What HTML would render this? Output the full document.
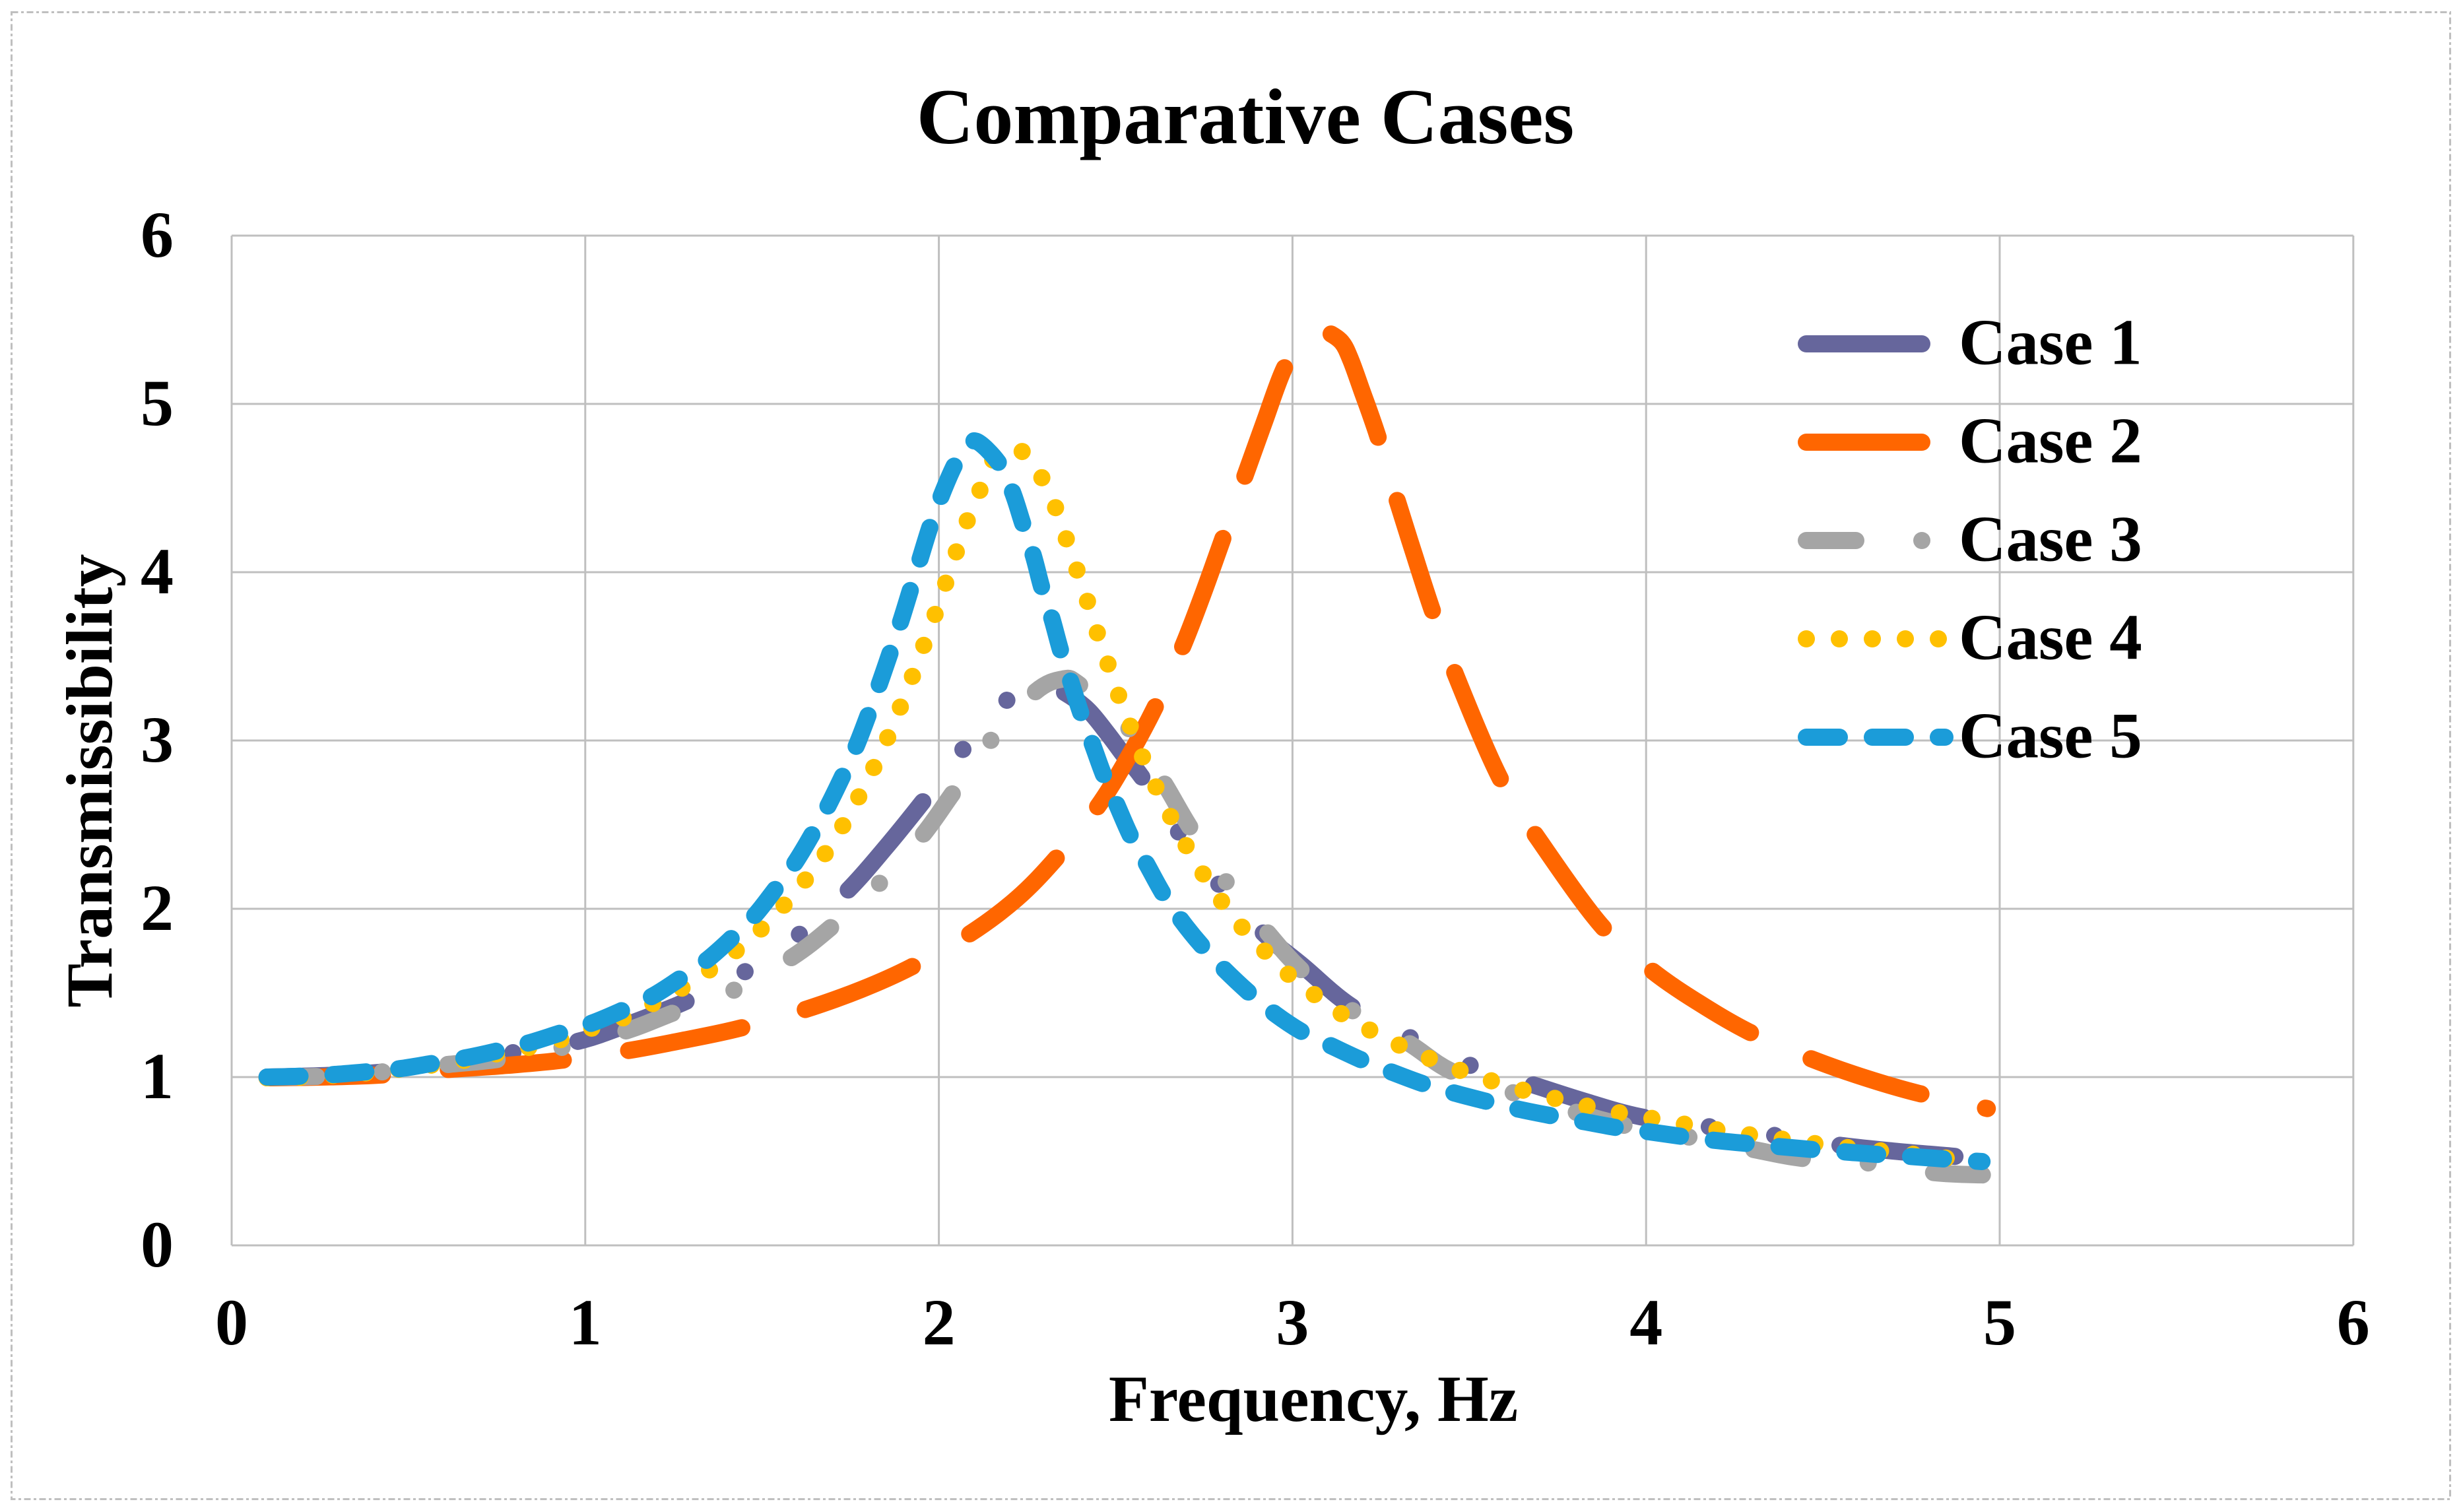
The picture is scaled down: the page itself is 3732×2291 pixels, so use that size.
<!DOCTYPE html>
<html lang="en">
<head>
<meta charset="utf-8">
<title>Comparative Cases</title>
<style>
html,body{margin:0;padding:0;background:#fff;}
svg{display:block;}
text{font-family:"Liberation Serif","Times New Roman",serif;font-weight:bold;fill:#000;}
</style>
</head>
<body>
<svg id="chart" xmlns="http://www.w3.org/2000/svg" width="3732" height="2291" viewBox="0 0 3732 2291">
  <rect x="0" y="0" width="3732" height="2291" fill="#fff"/>
  <rect x="17.5" y="18.5" width="3695" height="2253" fill="none" stroke="#bfbfbf" stroke-width="3" stroke-dasharray="10 4.5 4 4.5"/>
  <g id="grid"></g>
  <g id="xticks"></g>
  <g id="yticks"></g>
  <g id="series"></g>
  <text x="1887" y="217" font-size="120" text-anchor="middle">Comparative Cases</text>
  <text x="1990" y="2153" font-size="100" text-anchor="middle">Frequency, Hz</text>
  <text x="0" y="0" font-size="100" text-anchor="middle" transform="translate(169 1183) rotate(-90)">Transmissibility</text>
  <g stroke-width="26" stroke-linecap="round" fill="none">
    <g>
      <line x1="2737" y1="521" x2="2912" y2="521" stroke="#66669c"/>
      <text x="2968" y="551.5" font-size="99" stroke="none">Case 1</text>
    </g>
    <g>
      <line x1="2737" y1="670" x2="2912" y2="670" stroke="#ff6600"/>
      <text x="2968" y="700.5" font-size="99" stroke="none">Case 2</text>
    </g>
    <g>
      <line x1="2737" y1="819" x2="2912.1" y2="819" stroke="#a5a5a5" stroke-dasharray="75 100 0.01 100"/>
      <text x="2968" y="849.5" font-size="99" stroke="none">Case 3</text>
    </g>
    <g>
      <line x1="2737" y1="968" x2="2937.1" y2="968" stroke="#ffc000" stroke-dasharray="0.01 49.99"/>
      <text x="2968" y="998.5" font-size="99" stroke="none">Case 4</text>
    </g>
    <g>
      <line x1="2737" y1="1117" x2="2947" y2="1117" stroke="#1b9cd9" stroke-dasharray="50 50"/>
      <text x="2968" y="1147.5" font-size="99" stroke="none">Case 5</text>
    </g>
  </g>
</svg>
<script>
const xTickLabels = [0, 1, 2, 3, 4, 5, 6];
const yTickLabels = [0, 1, 2, 3, 4, 5, 6];

const case1X = [0.1,0.2,0.3,0.43,0.612,0.795,0.979,1.13,1.286,1.45,1.603,1.741,1.85,1.954,2.066,2.19,2.29,2.355,2.42,2.475,2.529,2.573,2.678,2.789,2.914,3.03,3.164,3.327,3.497,3.668,3.82,3.982,4.172,4.358,4.543,4.7,4.866,4.95];
const case1Y = [1,1.005,1.012,1.03,1.075,1.145,1.212,1.32,1.451,1.624,1.844,2.106,2.365,2.635,2.942,3.235,3.35,3.286,3.186,3.047,2.896,2.786,2.456,2.153,1.863,1.659,1.424,1.24,1.074,0.962,0.86,0.765,0.707,0.655,0.596,0.56,0.53,0.51];

const case2X = [0.1,0.25,0.422,0.612,0.78,0.933,1.123,1.28,1.437,1.62,1.78,1.923,2.09,2.22,2.33,2.446,2.53,2.611,2.687,2.745,2.801,2.864,2.92,2.976,3.03,3.075,3.101,3.14,3.165,3.196,3.241,3.296,3.345,3.394,3.458,3.586,3.7,3.875,4.015,4.15,4.29,4.46,4.62,4.771,4.965];
const case2Y = [0.996,1,1.012,1.045,1.07,1.1,1.158,1.22,1.29,1.4,1.52,1.655,1.855,2.06,2.296,2.598,2.88,3.196,3.546,3.86,4.188,4.562,4.89,5.208,5.38,5.44,5.425,5.365,5.26,5.08,4.81,4.427,4.1,3.782,3.408,2.78,2.4,1.897,1.635,1.44,1.27,1.114,0.995,0.903,0.813];

const case3X = [0.1,0.26,0.426,0.612,0.756,0.933,1.116,1.247,1.419,1.581,1.695,1.831,1.953,2.039,2.146,2.271,2.35,2.398,2.535,2.634,2.708,2.809,2.925,3.026,3.166,3.327,3.449,3.62,3.8,3.936,4.122,4.303,4.441,4.627,4.815,4.951];
const case3Y = [1,1.005,1.031,1.075,1.106,1.176,1.275,1.38,1.515,1.707,1.89,2.149,2.435,2.686,2.998,3.286,3.365,3.33,3.076,2.757,2.492,2.17,1.87,1.635,1.4,1.204,1.035,0.91,0.792,0.714,0.643,0.57,0.517,0.49,0.432,0.419];

const case4X = [0.1,0.2,0.3,0.38,0.469,0.56,0.653,0.747,0.84,0.933,1.018,1.11,1.193,1.275,1.353,1.428,1.499,1.563,1.623,1.679,1.729,1.774,1.817,1.856,1.892,1.926,1.958,1.99,2.02,2.05,2.081,2.117,2.149,2.19,2.24,2.293,2.332,2.362,2.392,2.422,2.45,2.48,2.51,2.543,2.578,2.616,2.658,2.702,2.75,2.803,2.861,2.925,2.992,3.067,3.143,3.225,3.308,3.393,3.479,3.568,3.659,3.749,3.84,3.931,4.023,4.114,4.208,4.299,4.392,4.484,4.575,4.67,4.762,4.858];
const case4Y = [0.996,1,1.012,1.025,1.045,1.07,1.098,1.137,1.176,1.224,1.29,1.354,1.439,1.53,1.639,1.753,1.883,2.024,2.173,2.329,2.496,2.667,2.843,3.02,3.203,3.386,3.569,3.753,3.939,4.125,4.31,4.491,4.657,4.72,4.711,4.555,4.373,4.188,4.004,3.816,3.628,3.444,3.259,3.076,2.892,2.714,2.537,2.365,2.198,2.035,1.882,1.741,1.604,1.482,1.37,1.272,1.184,1.106,1.036,0.974,0.918,0.87,0.824,0.785,0.752,0.718,0.684,0.655,0.629,0.603,0.58,0.56,0.54,0.516];

const case5X = [0.1,0.193,0.287,0.376,0.475,0.564,0.658,0.746,0.842,0.927,1.018,1.1,1.189,1.264,1.343,1.411,1.479,1.537,1.592,1.641,1.686,1.728,1.766,1.8,1.831,1.862,1.891,1.919,1.947,1.975,2.008,2.043,2.075,2.108,2.17,2.208,2.237,2.267,2.291,2.319,2.345,2.373,2.402,2.434,2.467,2.501,2.543,2.585,2.634,2.686,2.744,2.807,2.878,2.951,3.03,3.11,3.197,3.28,3.37,3.458,3.55,3.638,3.733,3.825,3.916,4.008,4.1,4.19,4.286,4.377,4.47,4.565,4.657,4.75,4.846,4.95];
const case5Y = [1,1.005,1.015,1.03,1.05,1.08,1.113,1.153,1.204,1.26,1.32,1.392,1.48,1.58,1.694,1.82,1.96,2.115,2.27,2.44,2.61,2.79,2.965,3.15,3.33,3.52,3.7,3.89,4.08,4.27,4.46,4.63,4.74,4.776,4.647,4.478,4.29,4.1,3.91,3.73,3.53,3.35,3.16,2.98,2.79,2.63,2.43,2.276,2.09,1.93,1.78,1.64,1.5,1.375,1.265,1.185,1.1,1.03,0.96,0.905,0.855,0.81,0.77,0.735,0.7,0.675,0.648,0.625,0.605,0.587,0.57,0.555,0.54,0.528,0.513,0.498];

const SVG_NS = 'http://www.w3.org/2000/svg';
const xScale = v => 351 + v * 535.8;
const yScale = v => 1887 - v * 255;

const gridGroup = document.getElementById('grid');
const xTickGroup = document.getElementById('xticks');
const yTickGroup = document.getElementById('yticks');
const seriesGroup = document.getElementById('series');

function makeLine(x1, y1, x2, y2) {
  const l = document.createElementNS(SVG_NS, 'line');
  l.setAttribute('x1', x1);
  l.setAttribute('y1', y1);
  l.setAttribute('x2', x2);
  l.setAttribute('y2', y2);
  l.setAttribute('stroke', '#bfbfbf');
  l.setAttribute('stroke-width', '3');
  return l;
}

function makeText(x, y, anchor, content) {
  const t = document.createElementNS(SVG_NS, 'text');
  t.setAttribute('x', x);
  t.setAttribute('y', y);
  t.setAttribute('text-anchor', anchor);
  t.setAttribute('font-size', '100');
  t.textContent = content;
  return t;
}

xTickLabels.forEach(v => {
  const l = makeLine(xScale(v), yScale(0), xScale(v), yScale(6));
  
  
  gridGroup.appendChild(l);
  const t = makeText(xScale(v), 2037, 'middle', String(v));
  
  
  xTickGroup.appendChild(t);
});

yTickLabels.forEach(v => {
  const l = makeLine(xScale(0), yScale(v), xScale(6), yScale(v));
  
  
  gridGroup.appendChild(l);
  const t = makeText(263, yScale(v) + 32, 'end', String(v));
  
  
  yTickGroup.appendChild(t);
});

function smoothPath(xs, ys) {
  const pts = xs.map((x, i) => [xScale(x), yScale(ys[i])]);
  let d = 'M' + pts[0][0].toFixed(1) + ' ' + pts[0][1].toFixed(1);
  for (let i = 0; i < pts.length - 1; i++) {
    const p0 = pts[Math.max(i - 1, 0)];
    const p1 = pts[i];
    const p2 = pts[i + 1];
    const p3 = pts[Math.min(i + 2, pts.length - 1)];
    const c1x = p1[0] + (p2[0] - p0[0]) / 6;
    const c1y = p1[1] + (p2[1] - p0[1]) / 6;
    const c2x = p2[0] - (p3[0] - p1[0]) / 6;
    const c2y = p2[1] - (p3[1] - p1[1]) / 6;
    d += 'C' + c1x.toFixed(1) + ' ' + c1y.toFixed(1) + ' ' + c2x.toFixed(1) + ' ' + c2y.toFixed(1) + ' ' + p2[0].toFixed(1) + ' ' + p2[1].toFixed(1);
  }
  return d;
}

function addSeries(xs, ys, color, dash, name) {
  const p = document.createElementNS(SVG_NS, 'path');
  p.setAttribute('d', smoothPath(xs, ys));
  p.setAttribute('fill', 'none');
  p.setAttribute('stroke', color);
  p.setAttribute('stroke-width', '26');
  p.setAttribute('stroke-linecap', 'round');
  p.setAttribute('stroke-linejoin', 'round');
  p.setAttribute('stroke-dasharray', dash);
  
  
  seriesGroup.appendChild(p);
}

addSeries(case1X, case1Y, '#66669c', '175 100 0.01 100 0.01 100', 'series-case-1');
addSeries(case2X, case2Y, '#ff6600', '175 100', 'series-case-2');
addSeries(case3X, case3Y, '#a5a5a5', '75 100 0.01 100', 'series-case-3');
addSeries(case4X, case4Y, '#ffc000', '0.01 49.99', 'series-case-4');
addSeries(case5X, case5Y, '#1b9cd9', '50 50', 'series-case-5');
</script>
</body>
</html>
